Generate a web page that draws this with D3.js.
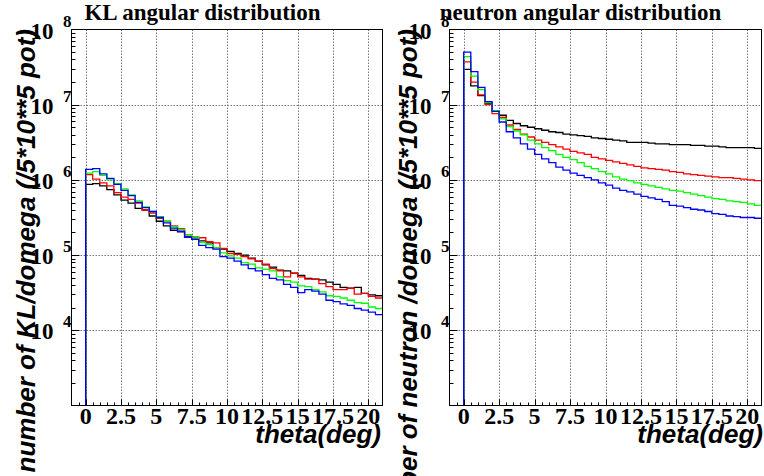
<!DOCTYPE html>
<html><head><meta charset="utf-8">
<script src="https://cdn.jsdelivr.net/npm/d3@7"></script>
<style>body{margin:0;background:#fff}svg{display:block}</style>
</head><body><svg id="c" width="764" height="476"></svg>
<script>
// ---- data ----
const binWidth = 0.5;
const thetaLow = d3.range(0, 21, binWidth); // 42 bin lower edges (deg)
const xTickValues = [0, 2.5, 5, 7.5, 10, 12.5, 15, 17.5, 20];
const xTickLabels = ["0", "2.5", "5", "7.5", "10", "12.5", "15", "17.5", "20"];
const yTickValues = [1e4, 1e5, 1e6, 1e7, 1e8];
const yTickExponents = ["4", "5", "6", "7", "8"];
const panelTitles = ["KL angular distribution", "neutron angular distribution"];
const yTitles = ["number of KL/domega (/5*10**5 pot)", "number of neutron /domega (/5*10**5 pot)"];
const xTitle = "theta(deg)";

const klBlack = [871000,891000,832000,741000,631000,537000,490000,417000,398000,331000,282000,245000,214000,204000,174000,170000,155000,145000,126000,120000,
  112000,105000,100000,91200,83200,74100,69200,63100,61700,57500,53700,49000,47900,46800,43700,40700,37200,36300,37200,30900,29500,28800];
const klRed = [1175000,1023000,912000,832000,676000,589000,550000,490000,398000,363000,309000,282000,245000,224000,186000,174000,170000,151000,145000,123000,
  105000,102000,95500,89100,83200,75900,66100,61700,51300,57500,51300,47900,47900,41700,38000,34700,34700,36300,30200,30900,28200,26900];
const klGreen = [1230000,1288000,1148000,1000000,891000,759000,631000,525000,437000,380000,324000,282000,240000,219000,186000,174000,148000,138000,126000,107000,
  97700,91200,79400,75900,67600,64600,61700,51300,45700,43700,38900,38000,34700,32400,28800,28200,26900,25100,23400,22900,20400,19500];
const klBlue = [1380000,1413000,1202000,1047000,871000,724000,617000,501000,427000,380000,316000,269000,229000,209000,174000,162000,135000,126000,120000,95500,
  91200,83200,74100,66100,61700,55000,49000,46800,40700,37200,31600,34700,33100,30200,25100,24000,22400,21400,19500,18600,17400,16200];

const nBlack = [29500000,17780000,13180000,10470000,8320000,7240000,6170000,5620000,5250000,5010000,4790000,4570000,4370000,4270000,4070000,3980000,3890000,3800000,3630000,3550000,
  3470000,3390000,3310000,3160000,3160000,3160000,3090000,3020000,3020000,2950000,2950000,2950000,2880000,2880000,2820000,2820000,2750000,2690000,2690000,2690000,2690000,2630000];
const nRed = [37150000,19950000,13490000,10000000,7590000,6760000,5370000,4680000,4070000,3720000,3390000,3160000,2950000,2750000,2570000,2400000,2290000,2190000,1995000,1905000,
  1820000,1738000,1660000,1585000,1514000,1445000,1413000,1380000,1349000,1288000,1259000,1202000,1175000,1148000,1122000,1096000,1072000,1072000,1047000,1023000,1000000,977000];
const nGreen = [43700000,24000000,15850000,10720000,8320000,6460000,5130000,4470000,3980000,3390000,3020000,2690000,2450000,2190000,1995000,1862000,1698000,1514000,1413000,1288000,
  1202000,1096000,1023000,977000,912000,871000,832000,794000,759000,724000,708000,676000,646000,617000,589000,562000,550000,525000,513000,501000,479000,457000];
const nBlue = [50100000,27500000,17000000,11000000,8130000,5890000,4370000,3630000,3020000,2570000,2190000,1905000,1698000,1479000,1349000,1230000,1148000,1072000,1000000,912000,
  851000,776000,724000,692000,646000,603000,575000,550000,513000,457000,447000,427000,407000,398000,380000,355000,347000,331000,324000,316000,316000,309000];

const seriesColors = ["#000000", "#ff0000", "#00ff00", "#0000ff"];
const panelSeries = [[klBlack, klRed, klGreen, klBlue], [nBlack, nRed, nGreen, nBlue]];

// ---- layout ----
const svg = d3.select("#c");
const yTop = 29.5, yBottom = 405.5;
const panels = [{left: 71.5, right: 382.5, pad: 0, titleX: 202.5},
                {left: 449.5, right: 761.5, pad: 382, titleX: 580.5}];
const y = d3.scaleLog().domain([1e3, 1e8]).range([yBottom, yTop]);
const serif = "'Liberation Serif','Times New Roman',serif";
const sans = "'Liberation Sans',Arial,Helvetica,sans-serif";

panels.forEach((p, pi) => {
  const x = d3.scaleLinear().domain([-1, 21]).range([p.left, p.right]);
  const g = svg.append("g");
  const clipId = "clip" + pi;
  svg.append("clipPath").attr("id", clipId).append("rect")
    .attr("x", p.left).attr("y", yTop).attr("width", p.right - p.left).attr("height", yBottom - yTop);

  // axis titles (drawn first so tick labels sit on top)
  g.append("text").attr("transform", `translate(${p.pad + 35},29) rotate(-90)`).attr("text-anchor", "end")
    .attr("font-family", sans).attr("font-weight", "bold").attr("font-style", "italic")
    .attr("font-size", 26).text(yTitles[pi]);
  g.append("text").attr("x", p.pad + 381).attr("y", 443).attr("text-anchor", "end")
    .attr("font-family", sans).attr("font-weight", "bold").attr("font-style", "italic")
    .attr("font-size", 26).text(xTitle);

  // grid
  const grid = g.append("g").attr("stroke", "#777").attr("stroke-width", 1).attr("stroke-dasharray", "1.5,1.5");
  xTickValues.forEach(v => {
    const xx = Math.round(x(v)) + 0.5;
    grid.append("line").attr("x1", xx).attr("x2", xx).attr("y1", yTop).attr("y2", yBottom);
  });
  yTickValues.slice(0, 4).forEach(v => {
    const yy = Math.round(y(v)) + 0.5;
    grid.append("line").attr("x1", p.left).attr("x2", p.right).attr("y1", yy).attr("y2", yy);
  });

  // histograms
  const line = d3.line().x(d => x(d[0])).y(d => y(d[1])).curve(d3.curveStepAfter);
  const hg = g.append("g").attr("clip-path", `url(#${clipId})`);
  panelSeries[pi].forEach((vals, si) => {
    const pts = [[thetaLow[0], 1e3]];
    vals.forEach((v, i) => pts.push([thetaLow[i], v]));
    pts.push([thetaLow[thetaLow.length - 1] + binWidth, vals[vals.length - 1]]);
    hg.append("path").attr("d", line(pts)).attr("fill", "none")
      .attr("stroke", seriesColors[si]).attr("stroke-width", 1.3);
  });

  // frame
  g.append("rect").attr("x", p.left).attr("y", yTop).attr("width", p.right - p.left)
    .attr("height", yBottom - yTop).attr("fill", "none").attr("stroke", "#000").attr("stroke-width", 1);

  // x ticks
  const ticks = g.append("g").attr("stroke", "#000").attr("stroke-width", 1);
  d3.range(-0.5, 21, 0.5).forEach(v => {
    const major = xTickValues.includes(v);
    const xx = Math.round(x(v)) + 0.5;
    ticks.append("line").attr("x1", xx).attr("x2", xx).attr("y1", yBottom).attr("y2", yBottom - (major ? 6 : 3));
  });
  // y ticks
  [3, 4, 5, 6, 7].forEach(e => {
    d3.range(1, 10).forEach(m => {
      const v = m * Math.pow(10, e);
      if (v <= 1e3) return;
      const yy = Math.round(y(v)) + 0.5;
      ticks.append("line").attr("x1", p.left).attr("x2", p.left + (m === 1 ? 8 : 4)).attr("y1", yy).attr("y2", yy);
    });
  });

  // x tick labels
  xTickValues.forEach((v, i) => {
    g.append("text").attr("x", x(v)).attr("y", 424).attr("text-anchor", "middle")
      .attr("font-family", serif).attr("font-weight", "bold").attr("font-size", 24).text(xTickLabels[i]);
  });
  // y tick labels
  yTickValues.forEach((v, i) => {
    const yy = y(v);
    g.append("text").attr("x", p.left - 18).attr("y", yy + 9).attr("text-anchor", "end")
      .attr("font-family", serif).attr("font-weight", "bold").attr("font-size", 23).text("10");
    g.append("text").attr("x", p.left - 8.5).attr("y", yy - 3).attr("text-anchor", "start")
      .attr("font-family", serif).attr("font-weight", "bold").attr("font-size", 17).text(yTickExponents[i]);
  });

  // panel title
  g.append("text").attr("x", p.titleX).attr("y", 20).attr("text-anchor", "middle")
    .attr("font-family", serif).attr("font-weight", "bold").attr("font-size", 23).text(panelTitles[pi]);
});
</script>
</body></html>
